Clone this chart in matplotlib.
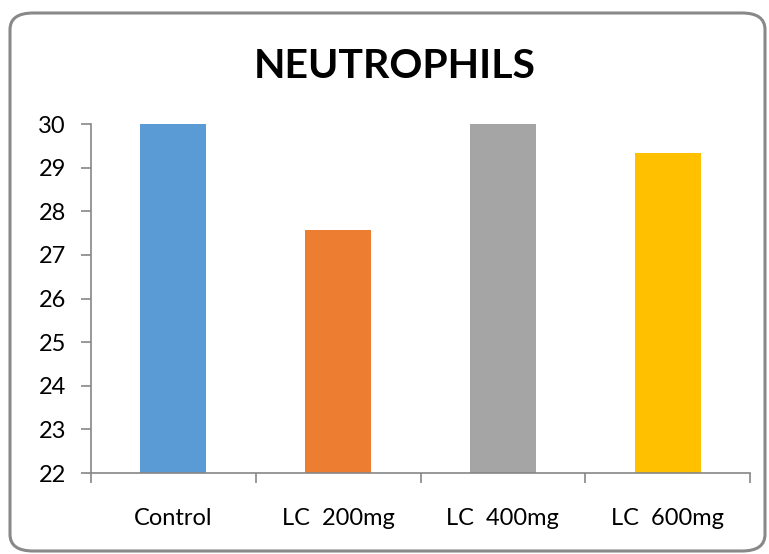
import matplotlib.pyplot as plt
from matplotlib.patches import FancyBboxPatch
import numpy as np

categories = ["Control", "LC  200mg", "LC  400mg", "LC  600mg"]
values = [30.0, 27.57, 30.0, 29.33]
colors = ["#5b9bd5", "#ed7d31", "#a5a5a5", "#ffc000"]
yticks = [22, 23, 24, 25, 26, 27, 28, 29, 30]

plt.rcParams['font.family'] = ['Lato', 'DejaVu Sans']

W, H = 769, 554
fig = plt.figure(figsize=(W / 100, H / 100), dpi=100)

# rounded chart border
border = FancyBboxPatch((10 / W, 3 / H), 755 / W, 538 / H,
                        boxstyle="round,pad=0,rounding_size=0.03",
                        transform=fig.transFigure, facecolor="none",
                        edgecolor="#898989", linewidth=2.2, zorder=-1)
fig.patches.append(border)

ax = fig.add_axes([91 / W, 1 - 473 / H, (750 - 91) / W, (473 - 124) / H])
ax.set_facecolor("none")

x = np.arange(len(categories))
ax.bar(x, values, width=0.4, color=colors, zorder=2)

ax.set_ylim(22, 30)
ax.set_xlim(-0.5, len(categories) - 0.5)
ax.set_yticks(yticks)
ax.set_yticklabels([str(t) for t in yticks], fontsize=17)

# category labels without ticks, boundary ticks as minor
ax.set_xticks(x)
ax.set_xticklabels(categories, fontsize=17)
ax.tick_params(axis="x", which="major", length=0, pad=25)
ax.set_xticks(np.arange(-0.5, len(categories)), minor=True)
ax.tick_params(axis="x", which="minor", length=7, color="#868686", width=1.2)
ax.tick_params(axis="y", length=7, color="#868686", width=1.2, pad=11)

for s in ["top", "right"]:
    ax.spines[s].set_visible(False)
for s in ["left", "bottom"]:
    ax.spines[s].set_color("#868686")
    ax.spines[s].set_linewidth(1.2)

fig.text(395 / W, 1 - 66 / H, "NEUTROPHILS", fontsize=29.5, fontweight="bold",
         ha="center", va="center")

fig.savefig("out.png", dpi=100)
